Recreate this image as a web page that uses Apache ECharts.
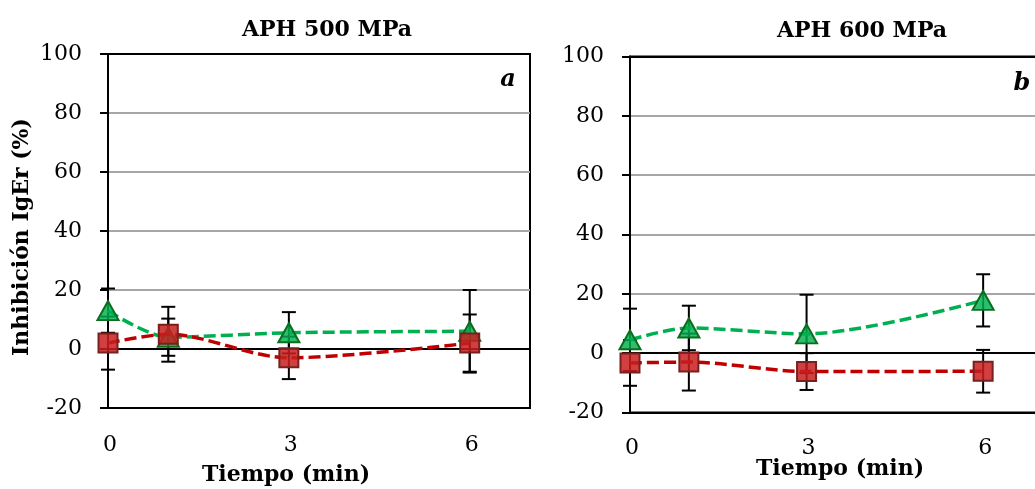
<!DOCTYPE html>
<html>
<head>
<meta charset="utf-8">
<script src="https://cdn.jsdelivr.net/npm/echarts@6/dist/echarts.min.js"></script>
<style>
  html, body { margin: 0; padding: 0; background: #fff; }
  #chart { width: 1035px; height: 489px; }
</style>
</head>
<body>
<div id="chart"></div>
<script>
// Sampling times (min)
const tiempo = [0, 1, 3, 6];
const panelTitles = ['APH 500 MPa', 'APH 600 MPa'];
const panelLetters = ['a', 'b'];
const yName = 'Inhibición IgEr (%)';
const xName = 'Tiempo (min)';

// APH 500 MPa: mean inhibition and standard deviation
const verde500 = [13, 4, 5.5, 6];
const verde500Err = [7.5, 6.3, 7, 14];
const rojo500 = [2, 5, -3, 2];
const rojo500Err = [9, 9.3, 7.2, 9.7];

// APH 600 MPa: mean inhibition and standard deviation
const verde600 = [4.5, 8.5, 6.5, 17.8];
const verde600Err = [10.5, 7.5, 13.2, 8.8];
const rojo600 = [-3.3, -3, -6.2, -6.1];
const rojo600Err = [7.7, 9.6, 6.2, 7.2];

const FONT = 'DejaVu Serif';

const chart = echarts.init(document.getElementById('chart'), null, { renderer: 'canvas' });

function errorBarItem(params, api) {
  const x = api.value(0);
  const pLo = api.coord([x, api.value(1)]);
  const pHi = api.coord([x, api.value(2)]);
  const hw = 7;
  const style = { stroke: '#000', lineWidth: 2 };
  return {
    type: 'group',
    children: [
      { type: 'line', shape: { x1: pLo[0], y1: pLo[1], x2: pHi[0], y2: pHi[1] }, style },
      { type: 'line', shape: { x1: pLo[0] - hw, y1: pLo[1], x2: pLo[0] + hw, y2: pLo[1] }, style },
      { type: 'line', shape: { x1: pHi[0] - hw, y1: pHi[1], x2: pHi[0] + hw, y2: pHi[1] }, style }
    ]
  };
}

function errorSeries(idx, mean, err) {
  return {
    type: 'custom',
    xAxisIndex: idx, yAxisIndex: idx,
    renderItem: errorBarItem,
    encode: { x: 0, y: [1, 2] },
    data: tiempo.map((t, i) => [t, mean[i] - err[i], mean[i] + err[i]]),
    z: 1,
    silent: true
  };
}

function verdeSeries(idx, mean) {
  return {
    type: 'line',
    name: 'verde',
    xAxisIndex: idx, yAxisIndex: idx,
    data: tiempo.map((t, i) => [t, mean[i]]),
    smooth: 0.3,
    symbol: 'triangle',
    symbolSize: [21, 19],
    lineStyle: { color: '#00B050', width: 3.5, type: [12, 5] },
    itemStyle: { color: 'rgba(0,176,80,0.82)', borderColor: '#0a6e1c', borderWidth: 2 },
    z: 2,
    animation: false
  };
}

function rojoSeries(idx, mean) {
  return {
    type: 'line',
    name: 'rojo',
    xAxisIndex: idx, yAxisIndex: idx,
    data: tiempo.map((t, i) => [t, mean[i]]),
    smooth: 0.3,
    symbol: 'rect',
    symbolSize: 19,
    lineStyle: { color: '#C00000', width: 3.5, type: [12, 5] },
    itemStyle: { color: 'rgba(200,30,30,0.85)', borderColor: '#7a1f1f', borderWidth: 2 },
    z: 3,
    animation: false
  };
}

function xAxisFor(idx, margin) {
  return {
    type: 'value', gridIndex: idx,
    min: 0, max: 7, interval: 3,
    axisLine: { show: false },
    axisTick: { show: false },
    splitLine: { show: false },
    axisLabel: {
      margin: margin,
      fontFamily: FONT, fontSize: 22, color: '#000',
      showMaxLabel: false,
      padding: [0, 0, 0, 4],
      formatter: v => (v % 3 === 0 ? String(v) : '')
    }
  };
}

function yAxisFor(idx) {
  return {
    type: 'value', gridIndex: idx,
    min: -20, max: 100, interval: 20,
    axisLine: { show: true, lineStyle: { color: '#000', width: 2 } },
    axisTick: { show: true, inside: false, length: 8, lineStyle: { color: '#000', width: 2 } },
    axisLabel: { margin: 26, fontFamily: FONT, fontSize: 22, color: '#000' },
    splitLine: {
      show: true,
      lineStyle: {
        width: 2,
        color: ['#000', '#000', '#a6a6a6', '#a6a6a6', '#a6a6a6', '#a6a6a6', '#000']
      }
    }
  };
}

const boldText = (x, y, text, extra) => Object.assign({
  type: 'text', x: x, y: y,
  style: {
    text: text, fill: '#000',
    font: 'bold 22px "' + FONT + '"',
    align: 'center', verticalAlign: 'middle'
  },
  silent: true
}, extra || {});

const option = {
  backgroundColor: '#fff',
  animation: false,
  grid: [
    { left: 108, top: 54, width: 422, height: 354, show: true, borderColor: '#000', borderWidth: 2, backgroundColor: 'transparent', outerBoundsMode: 'none', containLabel: false },
    { left: 630, top: 56.5, width: 412, height: 356, show: true, borderColor: '#000', borderWidth: 2, backgroundColor: 'transparent', outerBoundsMode: 'none', containLabel: false }
  ],
  xAxis: [xAxisFor(0, 26), xAxisFor(1, 25)],
  yAxis: [yAxisFor(0), yAxisFor(1)],
  series: [
    errorSeries(0, verde500, verde500Err),
    errorSeries(0, rojo500, rojo500Err),
    verdeSeries(0, verde500),
    rojoSeries(0, rojo500),
    errorSeries(1, verde600, verde600Err),
    errorSeries(1, rojo600, rojo600Err),
    verdeSeries(1, verde600),
    rojoSeries(1, rojo600)
  ],
  graphic: [
    boldText(327, 30, panelTitles[0]),
    boldText(862, 31, panelTitles[1]),
    boldText(286, 475, xName),
    boldText(840, 469, xName),
    boldText(22, 237, yName, { rotation: Math.PI / 2 }),
    {
      type: 'text', x: 508, y: 80,
      style: { text: panelLetters[0], fill: '#000', font: 'italic bold 24px "' + FONT + '"', align: 'center', verticalAlign: 'middle' }
    },
    {
      type: 'text', x: 1022, y: 84,
      style: { text: panelLetters[1], fill: '#000', font: 'italic bold 24px "' + FONT + '"', align: 'center', verticalAlign: 'middle' }
    }
  ]
};

chart.setOption(option);
</script>
</body>
</html>
